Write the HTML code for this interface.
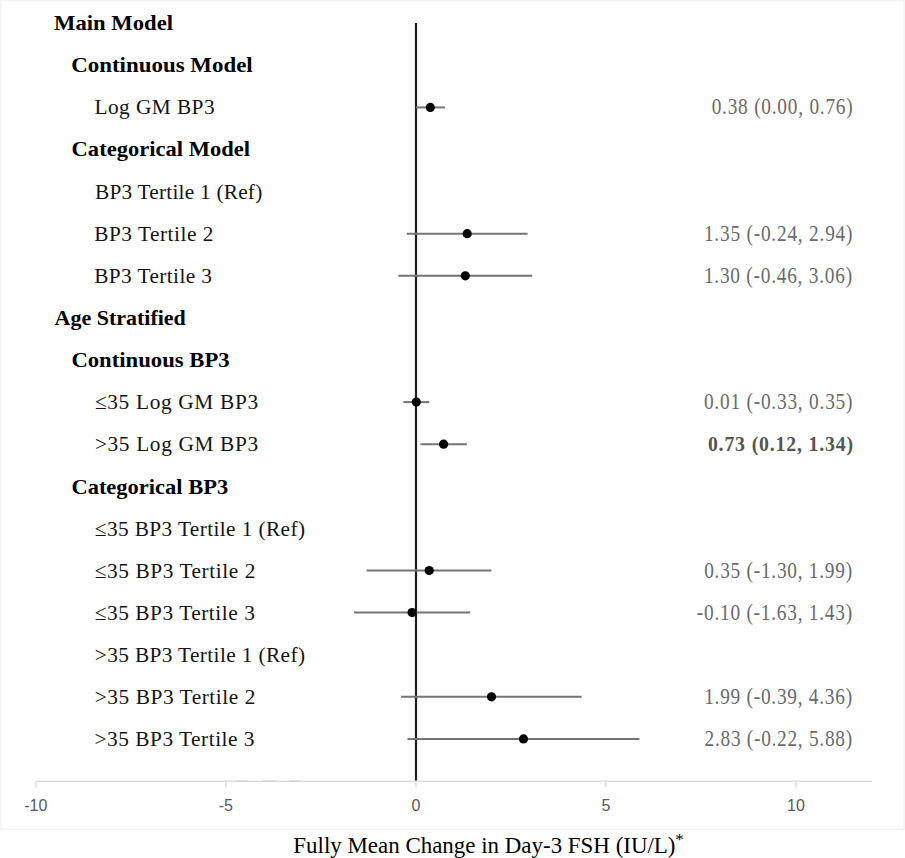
<!DOCTYPE html>
<html><head><meta charset="utf-8"><title>Forest plot</title>
<style>
html,body{margin:0;padding:0;background:#fff;}
body{width:905px;height:858px;overflow:hidden;}
svg{display:block;}
.lb{font-family:"Liberation Serif",serif;font-weight:bold;font-size:22px;fill:#000;}
.lr{font-family:"Liberation Serif",serif;font-size:22px;fill:#141414;}
.vr{font-family:"Liberation Serif",serif;font-size:22.5px;fill:#6a6a6a;}
.vb{font-family:"Liberation Serif",serif;font-weight:bold;font-size:20px;fill:#555555;}
.ax{font-family:"Liberation Sans",sans-serif;font-size:16px;fill:#595959;}
.tt{font-family:"Liberation Serif",serif;font-size:23.5px;fill:#000;}
</style></head><body>
<svg width="905" height="858" viewBox="0 0 905 858">
<rect x="0.75" y="0.6" width="903.3" height="828.8" fill="none" stroke="#f3f4f3" stroke-width="1.5"/>
<line x1="35.8" y1="781.2" x2="871.9" y2="781.2" stroke="#dcdedc" stroke-width="1.6"/>
<line x1="236" y1="781.2" x2="248" y2="781.2" stroke="#cfd1cf" stroke-width="1.4"/>
<line x1="262.5" y1="781.2" x2="275.8" y2="781.2" stroke="#cfd1cf" stroke-width="1.4"/>
<line x1="290" y1="781.2" x2="300" y2="781.2" stroke="#cfd1cf" stroke-width="1.4"/>
<line x1="35.8" y1="781.4" x2="35.8" y2="787.3" stroke="#d6d8d6" stroke-width="1.3"/>
<text class="ax" x="35.80" y="811" text-anchor="middle">-10</text>
<line x1="225.8" y1="781.4" x2="225.8" y2="787.3" stroke="#d6d8d6" stroke-width="1.3"/>
<text class="ax" x="225.85" y="811" text-anchor="middle">-5</text>
<line x1="415.9" y1="781.4" x2="415.9" y2="787.3" stroke="#d6d8d6" stroke-width="1.3"/>
<text class="ax" x="415.90" y="811" text-anchor="middle">0</text>
<line x1="605.9" y1="781.4" x2="605.9" y2="787.3" stroke="#d6d8d6" stroke-width="1.3"/>
<text class="ax" x="605.95" y="811" text-anchor="middle">5</text>
<line x1="796.0" y1="781.4" x2="796.0" y2="787.3" stroke="#d6d8d6" stroke-width="1.3"/>
<text class="ax" x="796.00" y="811" text-anchor="middle">10</text>
<line x1="416.0" y1="22.9" x2="416.0" y2="780.6" stroke="#1f1f1f" stroke-width="2.2"/>
<text class="lb" x="54.10" y="29.90" textLength="118.90" lengthAdjust="spacingAndGlyphs">Main Model</text>
<text class="lb" x="71.20" y="72.05" textLength="181.50" lengthAdjust="spacingAndGlyphs">Continuous Model</text>
<text class="lr" transform="translate(94.40,114.20) scale(0.97,1)" x="0" y="0" textLength="123.92" lengthAdjust="spacing">Log GM BP3</text>
<text class="vr" transform="translate(711.70,114.20) scale(0.86,1)" x="0" y="0" textLength="163.95" lengthAdjust="spacing">0.38 (0.00, 0.76)</text>
<line x1="415.9" y1="107.4" x2="444.8" y2="107.4" stroke="#747474" stroke-width="2.0"/>
<circle cx="430.3" cy="107.4" r="4.6" fill="#000"/>
<text class="lb" x="71.60" y="156.35" textLength="178.40" lengthAdjust="spacingAndGlyphs">Categorical Model</text>
<text class="lr" transform="translate(95.00,198.50) scale(0.97,1)" x="0" y="0" textLength="172.47" lengthAdjust="spacing">BP3 Tertile 1 (Ref)</text>
<text class="lr" transform="translate(94.20,240.65) scale(0.97,1)" x="0" y="0" textLength="122.89" lengthAdjust="spacing">BP3 Tertile 2</text>
<text class="vr" transform="translate(703.90,240.65) scale(0.86,1)" x="0" y="0" textLength="172.79" lengthAdjust="spacing">1.35 (-0.24, 2.94)</text>
<line x1="406.8" y1="233.7" x2="527.6" y2="233.7" stroke="#747474" stroke-width="2.0"/>
<circle cx="467.2" cy="233.7" r="4.6" fill="#000"/>
<text class="lr" transform="translate(94.20,282.80) scale(0.97,1)" x="0" y="0" textLength="121.44" lengthAdjust="spacing">BP3 Tertile 3</text>
<text class="vr" transform="translate(703.90,282.80) scale(0.86,1)" x="0" y="0" textLength="172.33" lengthAdjust="spacing">1.30 (-0.46, 3.06)</text>
<line x1="398.4" y1="275.8" x2="532.2" y2="275.8" stroke="#747474" stroke-width="2.0"/>
<circle cx="465.3" cy="275.8" r="4.6" fill="#000"/>
<text class="lb" x="54.60" y="324.95" textLength="131.20" lengthAdjust="spacingAndGlyphs">Age Stratified</text>
<text class="lb" x="71.40" y="367.10" textLength="158.20" lengthAdjust="spacingAndGlyphs">Continuous BP3</text>
<text class="lr" transform="translate(94.90,409.25) scale(0.97,1)" x="0" y="0" textLength="168.25" lengthAdjust="spacing">≤35 Log GM BP3</text>
<text class="vr" transform="translate(703.90,409.25) scale(0.86,1)" x="0" y="0" textLength="172.79" lengthAdjust="spacing">0.01 (-0.33, 0.35)</text>
<line x1="403.4" y1="402.1" x2="429.2" y2="402.1" stroke="#747474" stroke-width="2.0"/>
<circle cx="416.3" cy="402.1" r="4.6" fill="#000"/>
<text class="lr" transform="translate(94.90,451.40) scale(0.97,1)" x="0" y="0" textLength="168.25" lengthAdjust="spacing">&gt;35 Log GM BP3</text>
<text class="vb" transform="translate(707.90,451.40) scale(0.99,1)" x="0" y="0" textLength="146.67" lengthAdjust="spacing">0.73 (0.12, 1.34)</text>
<line x1="420.5" y1="444.2" x2="466.8" y2="444.2" stroke="#747474" stroke-width="2.0"/>
<circle cx="443.6" cy="444.2" r="4.6" fill="#000"/>
<text class="lb" x="71.40" y="493.55" textLength="156.80" lengthAdjust="spacingAndGlyphs">Categorical BP3</text>
<text class="lr" transform="translate(94.80,535.70) scale(0.97,1)" x="0" y="0" textLength="216.70" lengthAdjust="spacing">≤35 BP3 Tertile 1 (Ref)</text>
<text class="lr" transform="translate(94.80,577.85) scale(0.97,1)" x="0" y="0" textLength="165.57" lengthAdjust="spacing">≤35 BP3 Tertile 2</text>
<text class="vr" transform="translate(704.20,577.85) scale(0.86,1)" x="0" y="0" textLength="171.98" lengthAdjust="spacing">0.35 (-1.30, 1.99)</text>
<line x1="366.5" y1="570.5" x2="491.5" y2="570.5" stroke="#747474" stroke-width="2.0"/>
<circle cx="429.2" cy="570.5" r="4.6" fill="#000"/>
<text class="lr" transform="translate(94.80,620.00) scale(0.97,1)" x="0" y="0" textLength="164.95" lengthAdjust="spacing">≤35 BP3 Tertile 3</text>
<text class="vr" transform="translate(696.80,620.00) scale(0.86,1)" x="0" y="0" textLength="180.58" lengthAdjust="spacing">-0.10 (-1.63, 1.43)</text>
<line x1="353.9" y1="612.6" x2="470.3" y2="612.6" stroke="#747474" stroke-width="2.0"/>
<circle cx="412.1" cy="612.6" r="4.6" fill="#000"/>
<text class="lr" transform="translate(94.80,662.15) scale(0.97,1)" x="0" y="0" textLength="216.70" lengthAdjust="spacing">&gt;35 BP3 Tertile 1 (Ref)</text>
<text class="lr" transform="translate(94.80,704.30) scale(0.97,1)" x="0" y="0" textLength="165.57" lengthAdjust="spacing">&gt;35 BP3 Tertile 2</text>
<text class="vr" transform="translate(704.20,704.30) scale(0.86,1)" x="0" y="0" textLength="171.98" lengthAdjust="spacing">1.99 (-0.39, 4.36)</text>
<line x1="401.1" y1="696.8" x2="581.6" y2="696.8" stroke="#747474" stroke-width="2.0"/>
<circle cx="491.5" cy="696.8" r="4.6" fill="#000"/>
<text class="lr" transform="translate(94.60,746.45) scale(0.97,1)" x="0" y="0" textLength="164.85" lengthAdjust="spacing">&gt;35 BP3 Tertile 3</text>
<text class="vr" transform="translate(704.60,746.45) scale(0.86,1)" x="0" y="0" textLength="171.51" lengthAdjust="spacing">2.83 (-0.22, 5.88)</text>
<line x1="407.5" y1="738.9" x2="639.4" y2="738.9" stroke="#747474" stroke-width="2.0"/>
<circle cx="523.5" cy="738.9" r="4.6" fill="#000"/>
<text class="tt" x="293.30" y="852.6" textLength="382.20" lengthAdjust="spacingAndGlyphs">Fully Mean Change in Day-3 FSH (IU/L)</text>
<text class="tt" x="675.2" y="845.4" style="font-size:17px">*</text>
</svg>
</body></html>
